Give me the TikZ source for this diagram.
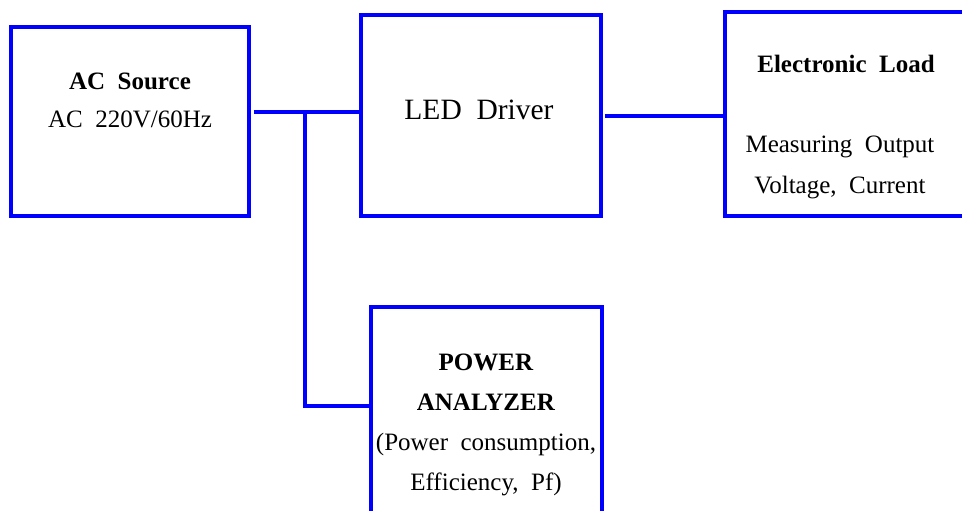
\documentclass[tikz,border=0pt]{standalone}
\usepackage{fontspec}
\setmainfont{Liberation Serif}[WordSpace=2]

\begin{document}
\begin{tikzpicture}[x=1pt, y=-1pt,
  box/.style={draw=blue, line width=3.8pt, rectangle, inner sep=0pt},
  txt/.style={align=center, font=\fontsize{25}{40}\selectfont},
  wire/.style={blue, line width=3.8pt}]
\useasboundingbox (0,0) rectangle (962,511);
\clip (0,0) rectangle (962,511);
% blocks
\node[box, minimum width=238pt, minimum height=189pt] (src) at (130,121.5) {};
\node[box, minimum width=240pt, minimum height=201pt] (drv) at (481,115.5) {};
\node[box, minimum width=245pt, minimum height=204pt] (load) at (847.5,114) {};
\node[box, minimum width=231pt, minimum height=233pt] (pa) at (486.5,423.5) {};
% texts (base = last line)
\node[txt, anchor=base] (srctxt) at (130,128) {\textbf{AC Source}\\[-1pt]AC 220V/60Hz};
\node[txt, font=\fontsize{29.5}{40}\selectfont, anchor=base] (drvtxt) at (479,119) {LED Driver};
\node[txt, anchor=base] (loadhead) at (846,73) {\textbf{Electronic Load}};
\node[txt, anchor=base] (loadtxt) at (840,193) {Measuring Output\\Voltage, Current};
\node[txt, anchor=base] (patxt) at (486,490) {\textbf{POWER}\\\textbf{ANALYZER}\\(Power consumption,\\Efficiency, Pf)};
% wiring
\coordinate (tap) at (305,112);
\coordinate (pin) at (305,406);
\coordinate (outy) at (660,116);
\draw[wire, shorten <=3pt] (src.east |- tap) -- (drv.west |- tap);
\draw[wire] (tap) -- (pin) -- (pa.west |- pin);
\draw[wire, shorten <=2pt] (drv.east |- outy) -- (load.west |- outy);
\end{tikzpicture}
\end{document}
